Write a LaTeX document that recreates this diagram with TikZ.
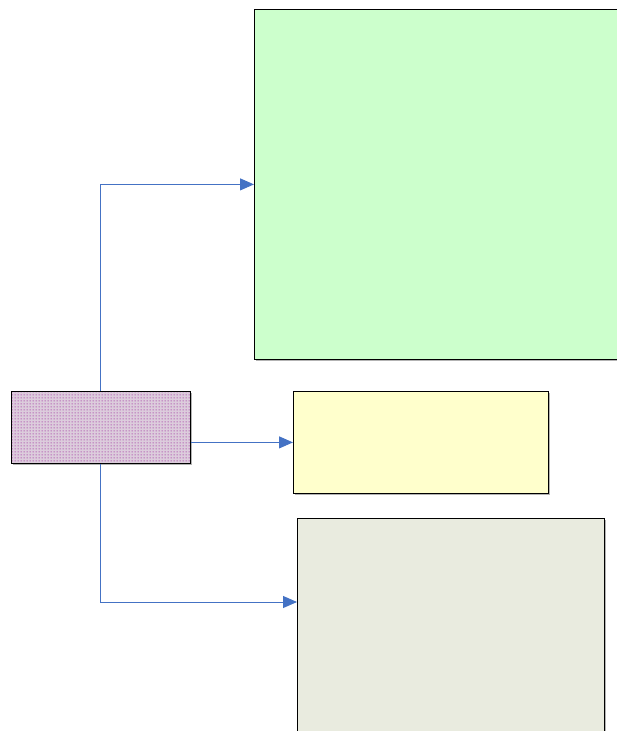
\documentclass[tikz,border=0pt]{standalone}
\usetikzlibrary{arrows.meta,patterns,shadows}
\definecolor{boxGreen}{HTML}{CCFFCC}
\definecolor{boxYellow}{HTML}{FFFFCC}
\definecolor{boxGrey}{HTML}{E9EBDF}
\definecolor{dotBack}{HTML}{DCCCDC}
\definecolor{dotFront}{HTML}{A030A0}
\definecolor{lineBlue}{HTML}{4472C4}
\pgfdeclarepatternformonly[\dotsize]{bigdots}{\pgfqpoint{-1pt}{-1pt}}{\pgfqpoint{2pt}{2pt}}{\pgfqpoint{3pt}{3pt}}
{
  \pgfpathcircle{\pgfqpoint{0.5pt}{0.5pt}}{\dotsize}
  \pgfusepath{fill}
}
\newdimen\dotsize
\dotsize=0.75pt
\begin{document}
\begin{tikzpicture}
[x=1pt,y=-1pt,
  lineDecorate/.style={-{Triangle[length=14pt,width=12pt]},draw=lineBlue,line width=1pt},%
  boxDecorate/.style={shape=rectangle,draw,line width=0.8pt,anchor=north west,
    drop shadow={shadow xshift=1.2pt,shadow yshift=-1.2pt,fill=gray,opacity=0.6}},
  dotDecorate/.style={boxDecorate,preaction={fill=dotBack},pattern=bigdots,pattern color=dotFront}]
\useasboundingbox (0,0) rectangle (617,731);
%% boxes
\foreach \nodename/\x/\y/\w/\h/\col in {
  green/254/9/420/350/boxGreen, yellow/293/391/255/102/boxYellow,
  grey/297/518/307/260/boxGrey}
{
  \node (\nodename) at (\x,\y) [boxDecorate,fill=\col,
    minimum width=\w pt,minimum height=\h pt] {};
}
\node (source) at (11,391) [dotDecorate,minimum width=179pt,minimum height=72pt] {};
\coordinate (greyIn) at (297,602);
%% connectors
\draw[lineDecorate] (source.north) |- (green.west);
\draw[lineDecorate] (source.east |- yellow.west) -- (yellow.west);
\draw[lineDecorate] (source.south) |- (greyIn);
\end{tikzpicture}
\end{document}
